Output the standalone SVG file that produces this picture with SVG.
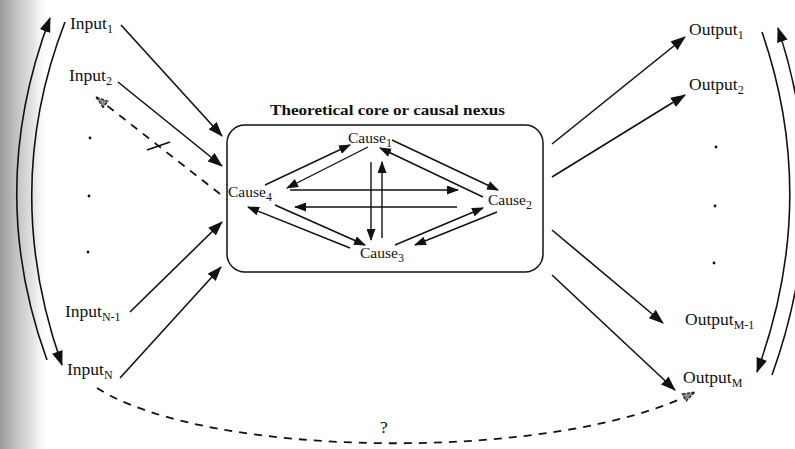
<svg xmlns="http://www.w3.org/2000/svg" width="795" height="449" viewBox="0 0 795 449">
<style>
  .lbl { font-family: "Liberation Serif", "Times New Roman", serif; font-size: 17.5px; fill: #111; }
  .cause { font-family: "Liberation Serif", "Times New Roman", serif; font-size: 15.5px; fill: #111; }
  .title { font-family: "Liberation Serif", "Times New Roman", serif; font-size: 15px; font-weight: bold; fill: #111; }
  .sub { font-size: 12px; }
  .ln { fill: none; stroke: #111; stroke-width: 1.6; }
  .thin { fill: none; stroke: #111; stroke-width: 1.4; }
  .dash { fill: none; stroke: #111; stroke-width: 1.8; stroke-dasharray: 8 7; }
</style>
<defs>
  <linearGradient id="scan" x1="0" y1="0" x2="1" y2="0">
    <stop offset="0" stop-color="#9a9a9a"/>
    <stop offset="0.35" stop-color="#c4c4c4"/>
    <stop offset="0.7" stop-color="#e8e8e8"/>
    <stop offset="1" stop-color="#ffffff" stop-opacity="0"/>
  </linearGradient>
  <marker id="ah" viewBox="0 0 15 11" refX="14" refY="5.5" markerWidth="15" markerHeight="11" markerUnits="userSpaceOnUse" orient="auto">
    <path d="M0,0 L15,5.5 L0,11 Z" fill="#111"/>
  </marker>
  <marker id="ahs" viewBox="0 0 12 9" refX="11" refY="4.5" markerWidth="12" markerHeight="9" markerUnits="userSpaceOnUse" orient="auto">
    <path d="M0,0 L12,4.5 L0,9 Z" fill="#111"/>
  </marker>
  <marker id="ahd" viewBox="0 0 14 10" refX="13" refY="5" markerWidth="14" markerHeight="10" markerUnits="userSpaceOnUse" orient="auto">
    <path d="M1,1 L13,5 L1,9 Z" fill="#888" stroke="#111" stroke-width="1.2" stroke-dasharray="3 1.5"/>
  </marker>
</defs>
<rect x="0" y="0" width="795" height="449" fill="#ffffff"/>
<rect x="0" y="0" width="50" height="449" fill="url(#scan)"/>

<g id="core">
  <rect x="227" y="125" width="316" height="147" rx="18" ry="18" fill="none" stroke="#111" stroke-width="1.5"/>
  <text class="title" x="270" y="115" textLength="235" lengthAdjust="spacingAndGlyphs">Theoretical core or causal nexus</text>
</g>
<g id="cause1"><text class="cause" x="348" y="143">Cause<tspan class="sub" dy="4">1</tspan></text></g>
<g id="cause2"><text class="cause" x="488" y="205">Cause<tspan class="sub" dy="4">2</tspan></text></g>
<g id="cause3"><text class="cause" x="360" y="258">Cause<tspan class="sub" dy="4">3</tspan></text></g>
<g id="cause4"><text class="cause" x="228" y="197">Cause<tspan class="sub" dy="4">4</tspan></text></g>

<g id="input1"><text class="lbl" x="70" y="29">Input<tspan class="sub" dy="4">1</tspan></text></g>
<g id="input2"><text class="lbl" x="69" y="81">Input<tspan class="sub" dy="4">2</tspan></text></g>
<g id="inputN-1"><text class="lbl" x="65" y="317">Input<tspan class="sub" dy="4">N-1</tspan></text></g>
<g id="inputN"><text class="lbl" x="67" y="375">Input<tspan class="sub" dy="4">N</tspan></text></g>
<g id="output1"><text class="lbl" x="689" y="35">Output<tspan class="sub" dy="4">1</tspan></text></g>
<g id="output2"><text class="lbl" x="689" y="90">Output<tspan class="sub" dy="4">2</tspan></text></g>
<g id="outputM-1"><text class="lbl" x="685" y="325">Output<tspan class="sub" dy="4">M-1</tspan></text></g>
<g id="outputM"><text class="lbl" x="683" y="383">Output<tspan class="sub" dy="4">M</tspan></text></g>

<g id="dots" fill="#111">
  <circle cx="90" cy="138" r="1.4"/>
  <circle cx="89" cy="196" r="1.4"/>
  <circle cx="88" cy="252" r="1.4"/>
  <circle cx="716" cy="147" r="1.4"/>
  <circle cx="715" cy="206" r="1.4"/>
  <circle cx="714" cy="263" r="1.4"/>
</g>

<g id="question"><text class="lbl" x="384" y="433" text-anchor="middle">?</text></g>

<g id="connectors">
  <line class="ln" x1="121" y1="25" x2="222" y2="136" marker-end="url(#ah)"/>
  <line class="ln" x1="118" y1="82" x2="222" y2="166" marker-end="url(#ah)"/>
  <line class="ln" x1="130" y1="312" x2="222" y2="222" marker-end="url(#ah)"/>
  <line class="ln" x1="120" y1="378" x2="221" y2="267" marker-end="url(#ah)"/>
  <line class="dash" x1="220" y1="194" x2="96" y2="97" marker-end="url(#ahd)"/>
  <line class="ln" x1="147" y1="150" x2="170" y2="142"/>
  <line class="ln" x1="552" y1="144" x2="685" y2="37" marker-end="url(#ah)"/>
  <line class="ln" x1="552" y1="177" x2="685" y2="95" marker-end="url(#ah)"/>
  <line class="ln" x1="552" y1="230" x2="663" y2="323" marker-end="url(#ah)"/>
  <line class="ln" x1="552" y1="275" x2="675" y2="390" marker-end="url(#ah)"/>
  <path class="ln" d="M47,360 Q-15,190 50,18" marker-end="url(#ah)"/>
  <path class="ln" d="M65,22 Q0,190 62,365" marker-end="url(#ah)"/>
  <path class="ln" d="M762,32 Q820,200 757,372" marker-end="url(#ah)"/>
  <path class="ln" d="M772,375 Q835,200 778,28" marker-end="url(#ah)"/>
  <path class="dash" d="M97,388 C210,460 560,462 695,392" marker-end="url(#ahd)"/>
  <line class="thin" x1="265" y1="185" x2="350" y2="145" marker-end="url(#ahs)"/>
  <line class="thin" x1="368" y1="147" x2="287" y2="188" marker-end="url(#ahs)"/>
  <line class="thin" x1="392" y1="140" x2="498" y2="190" marker-end="url(#ahs)"/>
  <line class="thin" x1="483" y1="197" x2="380" y2="148" marker-end="url(#ahs)"/>
  <line class="thin" x1="290" y1="190" x2="458" y2="190" marker-end="url(#ahs)"/>
  <line class="thin" x1="457" y1="207" x2="295" y2="207" marker-end="url(#ahs)"/>
  <line class="thin" x1="371" y1="162" x2="371" y2="240" marker-end="url(#ahs)"/>
  <line class="thin" x1="382" y1="238" x2="382" y2="162" marker-end="url(#ahs)"/>
  <line class="thin" x1="275" y1="205" x2="365" y2="245" marker-end="url(#ahs)"/>
  <line class="thin" x1="350" y1="248" x2="248" y2="207" marker-end="url(#ahs)"/>
  <line class="thin" x1="395" y1="245" x2="483" y2="208" marker-end="url(#ahs)"/>
  <line class="thin" x1="497" y1="212" x2="415" y2="245" marker-end="url(#ahs)"/>
</g>
</svg>
